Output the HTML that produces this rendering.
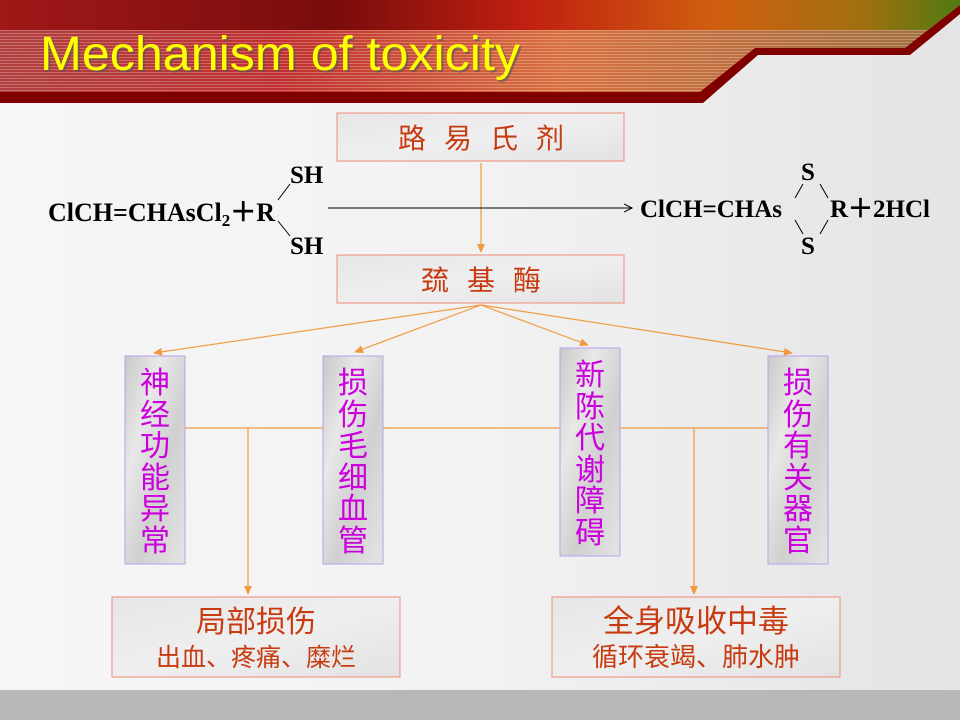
<!DOCTYPE html>
<html><head><meta charset="utf-8"><style>
html,body{margin:0;padding:0;width:960px;height:720px;overflow:hidden;}
body{background:linear-gradient(90deg,#f6f6f6 0%,#f2f2f2 50%,#e4e4e4 100%);}
svg{display:block}
.cn{font-family:"Liberation Sans","Noto Sans CJK SC",sans-serif;}
.chem{font-family:"Liberation Serif",serif;font-weight:bold;fill:#000;}
</style></head><body>
<svg width="960" height="720" viewBox="0 0 960 720" xmlns="http://www.w3.org/2000/svg">
<defs>
<linearGradient id="hdr" x1="0" y1="0" x2="1" y2="0">
<stop offset="0" stop-color="#a01818"/><stop offset="0.35" stop-color="#7a0c0c"/><stop offset="0.55" stop-color="#c02010"/><stop offset="0.75" stop-color="#d06010"/><stop offset="0.9" stop-color="#a07010"/><stop offset="1" stop-color="#507a10"/>
</linearGradient>
<linearGradient id="band" x1="0" y1="0" x2="1" y2="0">
<stop offset="0" stop-color="#b04040"/><stop offset="0.3" stop-color="#c03030"/><stop offset="0.6" stop-color="#d87040"/><stop offset="1" stop-color="#a07040"/>
</linearGradient>
<pattern id="stripes" width="4" height="3" patternUnits="userSpaceOnUse"><rect width="4" height="1" fill="#ffffff" opacity="0.25"/></pattern>
<linearGradient id="marble" x1="0" y1="0" x2="1" y2="1">
<stop offset="0" stop-color="#e6e6e6"/><stop offset="0.5" stop-color="#efefef"/><stop offset="1" stop-color="#e2e2e2"/>
</linearGradient>
<linearGradient id="marble2" x1="0" y1="0" x2="1" y2="1">
<stop offset="0" stop-color="#c8c8c8"/><stop offset="0.3" stop-color="#e8e8e8"/><stop offset="0.6" stop-color="#d0d0d0"/><stop offset="1" stop-color="#e4e4e4"/>
</linearGradient>
<marker id="ao" markerWidth="10" markerHeight="10" refX="8" refY="5" orient="auto" markerUnits="userSpaceOnUse"><path d="M0,1 L9,5 L0,9 Z" fill="#f09a40"/></marker>
<marker id="ab" markerWidth="10" markerHeight="10" refX="8" refY="5" orient="auto" markerUnits="userSpaceOnUse"><path d="M0,1 L8,5 L0,9" fill="none" stroke="#000" stroke-width="1"/></marker>
</defs>
<!-- header -->
<path d="M0,0 H960 V5 L905,48 H755 L700,97 H0 Z" fill="url(#hdr)"/>
<path d="M0,30 H935 L905,48 H755 L700,92 H0 Z" fill="url(#band)"/>
<path d="M0,30 H935 L905,48 H755 L700,92 H0 Z" fill="url(#stripes)"/>
<path d="M0,92 H700 L755,48 H905 L960,5 V14 L910,55 H758 L703,103 H0 Z" fill="#800000"/>
<text x="42" y="72" font-family="Liberation Sans,sans-serif" font-size="48" fill="#555" opacity="0.6" textLength="480" lengthAdjust="spacingAndGlyphs">Mechanism of toxicity</text>
<text x="40" y="70" font-family="Liberation Sans,sans-serif" font-size="48" fill="#ffff00" textLength="480" lengthAdjust="spacingAndGlyphs">Mechanism of toxicity</text>
<!-- bottom band -->
<rect x="0" y="690" width="960" height="30" fill="#b8b8b8"/>

<!-- top boxes -->
<rect x="337" y="113" width="287" height="48" fill="url(#marble)" stroke="#f08878" stroke-width="1"/>
<text x="490" y="148" text-anchor="middle" class="cn" font-size="28" fill="#c83a10" letter-spacing="18">路易氏剂</text>
<rect x="337" y="255" width="287" height="48" fill="url(#marble)" stroke="#f08878" stroke-width="1"/>
<text x="490" y="290" text-anchor="middle" class="cn" font-size="28" fill="#c83a10" letter-spacing="18">巯基酶</text>
<line x1="481" y1="163" x2="481" y2="252" stroke="#f09a40" stroke-width="1.2" marker-end="url(#ao)"/>

<!-- reaction -->
<line x1="328" y1="208" x2="632" y2="208" stroke="#000" stroke-width="1" marker-end="url(#ab)"/>
<text x="48" y="221" class="chem" font-size="26">ClCH=CHAsCl<tspan font-size="17" dy="5">2</tspan><tspan dy="-5">＋R</tspan></text>
<text x="290" y="183" class="chem" font-size="25">SH</text>
<text x="290" y="254" class="chem" font-size="25">SH</text>
<line x1="278" y1="200" x2="290" y2="184" stroke="#000" stroke-width="1"/>
<line x1="278" y1="221" x2="290" y2="236" stroke="#000" stroke-width="1"/>
<text x="640" y="217" class="chem" font-size="25">ClCH=CHAs</text>
<text x="801" y="180" class="chem" font-size="25">S</text>
<text x="801" y="254" class="chem" font-size="25">S</text>
<line x1="795" y1="198" x2="803" y2="184" stroke="#000" stroke-width="1"/>
<line x1="820" y1="184" x2="828" y2="198" stroke="#000" stroke-width="1"/>
<line x1="795" y1="220" x2="803" y2="234" stroke="#000" stroke-width="1"/>
<line x1="820" y1="234" x2="828" y2="220" stroke="#000" stroke-width="1"/>
<text x="830" y="217" class="chem" font-size="25">R＋2HCl</text>

<!-- fan arrows -->
<g stroke="#f09a40" stroke-width="1.2" fill="none">
<line x1="481" y1="305" x2="154" y2="353" marker-end="url(#ao)"/>
<line x1="481" y1="305" x2="355" y2="352" marker-end="url(#ao)"/>
<line x1="481" y1="305" x2="588" y2="345" marker-end="url(#ao)"/>
<line x1="481" y1="305" x2="792" y2="353" marker-end="url(#ao)"/>
<line x1="185" y1="428" x2="323" y2="428"/>
<line x1="383" y1="428" x2="560" y2="428"/>
<line x1="620" y1="428" x2="768" y2="428"/>
<line x1="248" y1="428" x2="248" y2="594" marker-end="url(#ao)"/>
<line x1="694" y1="428" x2="694" y2="594" marker-end="url(#ao)"/>
</g>

<!-- vertical boxes -->
<g stroke="#b8a0e8" stroke-width="1" fill="url(#marble2)">
<rect x="125" y="356" width="60" height="208"/>
<rect x="323" y="356" width="60" height="208"/>
<rect x="560" y="348" width="60" height="208"/>
<rect x="768" y="356" width="60" height="208"/>
</g>
<g class="cn" font-size="30" fill="#cc00dd" text-anchor="middle">
<text x="155" y="393">神</text><text x="155" y="425">经</text><text x="155" y="456">功</text><text x="155" y="488">能</text><text x="155" y="519">异</text><text x="155" y="551">常</text>
<text x="353" y="393">损</text><text x="353" y="425">伤</text><text x="353" y="456">毛</text><text x="353" y="488">细</text><text x="353" y="519">血</text><text x="353" y="551">管</text>
<text x="590" y="385">新</text><text x="590" y="417">陈</text><text x="590" y="448">代</text><text x="590" y="480">谢</text><text x="590" y="511">障</text><text x="590" y="543">碍</text>
<text x="798" y="393">损</text><text x="798" y="425">伤</text><text x="798" y="456">有</text><text x="798" y="488">关</text><text x="798" y="519">器</text><text x="798" y="551">官</text>
</g>

<!-- bottom boxes -->
<rect x="112" y="597" width="288" height="80" fill="url(#marble)" stroke="#f08878" stroke-width="1"/>
<text x="256" y="632" text-anchor="middle" class="cn" font-size="30" fill="#c83a10">局部损伤</text>
<text x="256" y="666" text-anchor="middle" class="cn" font-size="25" fill="#c83a10">出血、疼痛、糜烂</text>
<rect x="552" y="597" width="288" height="80" fill="url(#marble)" stroke="#f08878" stroke-width="1"/>
<text x="696" y="632" text-anchor="middle" class="cn" font-size="31" fill="#c83a10">全身吸收中毒</text>
<text x="696" y="666" text-anchor="middle" class="cn" font-size="26" fill="#c83a10">循环衰竭、肺水肿</text>
</svg>
</body></html>
